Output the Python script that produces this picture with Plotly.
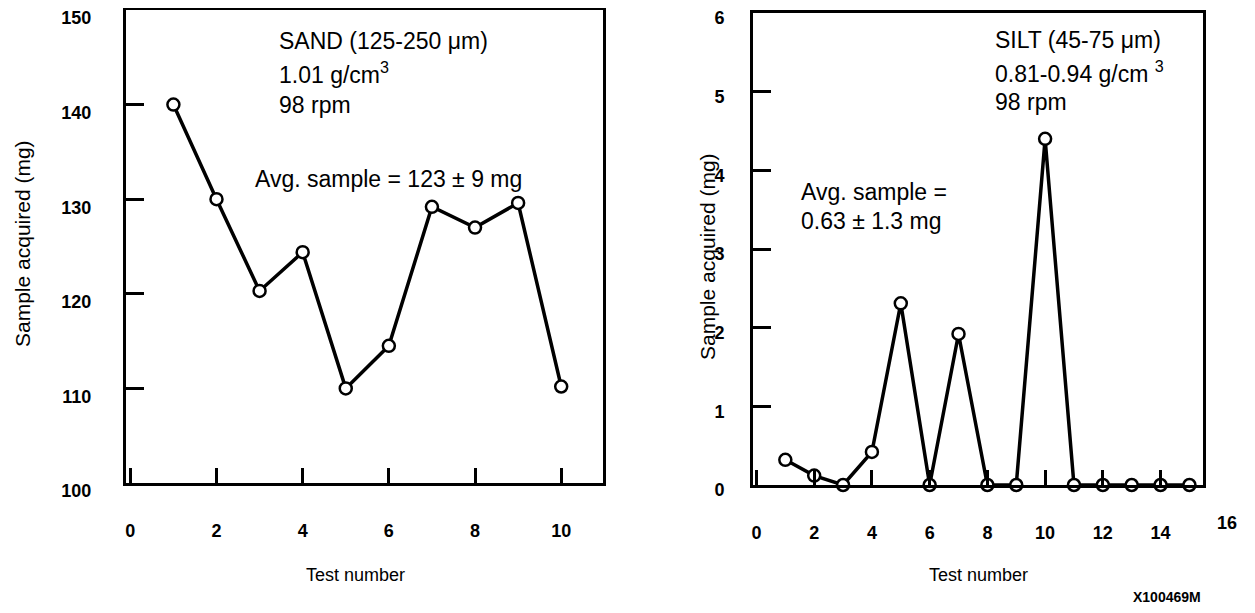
import plotly.graph_objects as go

# ---- data ----
sand_tests = [1, 2, 3, 4, 5, 6, 7, 8, 9, 10]
sand_mg = [140, 130, 120.3, 124.4, 110, 114.5, 129.2, 127, 129.6, 110.2]

silt_tests = [1, 2, 3, 4, 5, 6, 7, 8, 9, 10, 11, 12, 13, 14, 15]
silt_mg = [0.32, 0.12, 0, 0.42, 2.31, 0, 1.92, 0, 0, 4.4, 0, 0, 0, 0, 0]

sand_yticks = [100, 110, 120, 130, 140, 150]
sand_xticks = [0, 2, 4, 6, 8, 10]
silt_yticks = [0, 1, 2, 3, 4, 5, 6]
silt_xticks = [0, 2, 4, 6, 8, 10, 12, 14]

OFF = 8  # default page body margin in the html page
W, H = 1255 - OFF, 613 - OFF
FONT = "Liberation Sans, Arial, Helvetica, sans-serif"

def px(x):
    return (x - OFF) / W

def py(y):
    return 1 - (y - OFF) / H

fig = go.Figure()

line_style = dict(color="black", width=3.5)
marker_style = dict(symbol="circle", size=12, color="white",
                    line=dict(color="black", width=2.5))

fig.add_trace(go.Scatter(x=sand_tests, y=sand_mg, mode="lines+markers",
                         line=line_style, marker=marker_style,
                         xaxis="x", yaxis="y", cliponaxis=False,
                         showlegend=False))
fig.add_trace(go.Scatter(x=silt_tests, y=silt_mg, mode="lines+markers",
                         line=line_style, marker=marker_style,
                         xaxis="x2", yaxis="y2", cliponaxis=False,
                         showlegend=False))

tickfont = dict(family=FONT, size=18, color="black", weight="bold")
axis_common = dict(showgrid=False, zeroline=False, showline=True,
                   linecolor="black", linewidth=3, mirror=True,
                   ticks="inside", tickcolor="black", tickwidth=3,
                   tickfont=tickfont, ticklabeloverflow="allow",
                   automargin=False)

fig.update_layout(
    template="none",
    width=W, height=H,
    margin=dict(l=0, r=0, t=0, b=0, autoexpand=False),
    paper_bgcolor="white", plot_bgcolor="white",
    font=dict(family=FONT, color="black"),
    xaxis=dict(domain=[px(126), px(603)], range=[-0.1, 10.97],
               tickvals=sand_xticks, ticklen=15, ticklabelstandoff=29,
               anchor="y", **axis_common),
    yaxis=dict(domain=[py(483), py(10)], range=[100, 150],
               tickvals=sand_yticks, ticklen=18, ticklabelstandoff=28,
               ticklabelshift=8, anchor="x", **axis_common),
    xaxis2=dict(domain=[px(753), px(1203)], range=[-0.12, 15.47],
                tickvals=silt_xticks, ticklen=15, ticklabelstandoff=29,
                anchor="y2", **axis_common),
    yaxis2=dict(domain=[py(485), py(13)], range=[0, 6],
                tickvals=silt_yticks, ticklen=18, ticklabelstandoff=22,
                ticklabelshift=5, anchor="x2", **axis_common),
)

ann_font = dict(family=FONT, size=23, color="black")
title_font = dict(family=FONT, size=18, color="black")
ytitle_font = dict(family=FONT, size=21, color="black")

annotations = [
    # left panel text
    dict(text="SAND (125-250 μm)", x=3.4, y=146.7, xref="x", yref="y"),
    dict(text="1.01 g/cm<sup>3</sup>", x=3.4, y=143.3, xref="x", yref="y"),
    dict(text="98 rpm", x=3.4, y=140.0, xref="x", yref="y"),
    dict(text="Avg. sample = 123 ± 9 mg", x=2.84, y=132.1, xref="x", yref="y"),
    # right panel text
    dict(text="SILT (45-75 μm)", x=8.19, y=5.66, xref="x2", yref="y2"),
    dict(text="0.81-0.94 g/cm <sup>3</sup>", x=8.19, y=5.25, xref="x2", yref="y2"),
    dict(text="98 rpm", x=8.19, y=4.87, xref="x2", yref="y2"),
    dict(text="Avg. sample =", x=1.47, y=3.73, xref="x2", yref="y2"),
    dict(text="0.63 ± 1.3 mg", x=1.47, y=3.36, xref="x2", yref="y2"),
]
for a in annotations:
    a.update(showarrow=False, xanchor="left", yanchor="middle", font=ann_font)
    fig.add_annotation(**a)

paper_texts = [
    dict(text="Sample acquired (mg)", x=px(22), y=py(244), textangle=-90, font=ytitle_font),
    dict(text="Sample acquired (mg)", x=px(707), y=py(256), textangle=-90, font=ytitle_font),
    dict(text="Test number", x=px(355), y=py(575), font=title_font),
    dict(text="Test number", x=px(978), y=py(575), font=title_font),
    # last x tick label of right panel, outside the frame
    dict(text="16", x=px(1227), y=py(523), font=tickfont),
    # figure id
    dict(text="X100469M", x=px(1167), y=py(597),
         font=dict(family=FONT, size=14, color="black", weight="bold")),
]
for a in paper_texts:
    a.update(xref="paper", yref="paper", showarrow=False,
             xanchor="center", yanchor="middle")
    fig.add_annotation(**a)

fig.write_html("out.html")
